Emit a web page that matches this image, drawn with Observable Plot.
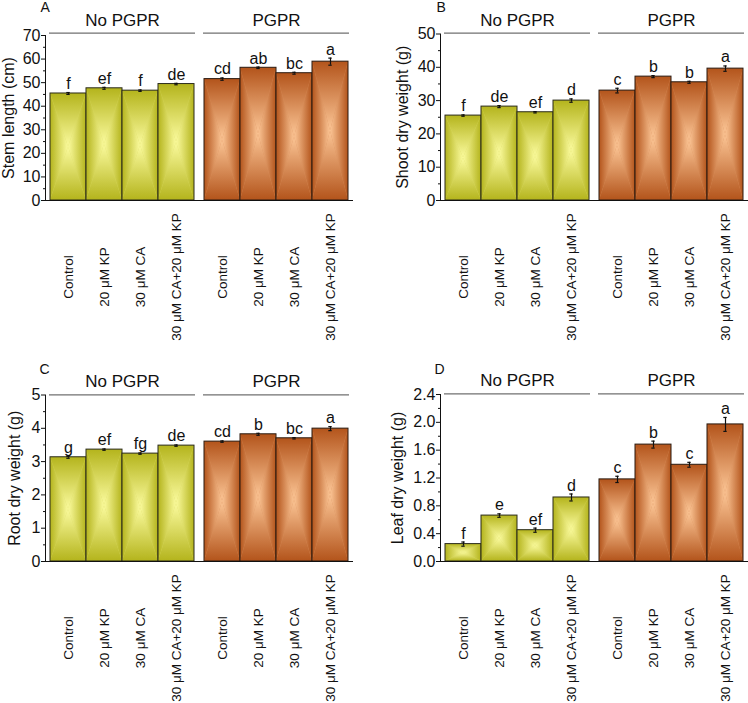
<!DOCTYPE html>
<html><head><meta charset="utf-8">
<script src="https://cdn.jsdelivr.net/npm/d3@7"></script>
<script src="https://cdn.jsdelivr.net/npm/@observablehq/plot@0.6"></script>
<style>
body{margin:0;background:#fff;}
#wrap{position:relative;width:748px;height:703px;font-family:"Liberation Sans",Arial,sans-serif;overflow:hidden;}
.panel{position:absolute;}
.tag{position:absolute;font-size:14px;line-height:1;color:#111;}
</style></head><body>
<svg width="0" height="0" style="position:absolute">
<defs>
  <linearGradient id="yL" x1="0" y1="0" x2="1" y2="0"><stop offset="0" stop-color="#b4b41c"/><stop offset="1" stop-color="#fbfb9e"/></linearGradient>
  <linearGradient id="yR" x1="0" y1="0" x2="1" y2="0"><stop offset="0" stop-color="#fbfb9e"/><stop offset="1" stop-color="#b4b41c"/></linearGradient>
  <linearGradient id="yT" x1="0" y1="0" x2="0" y2="1"><stop offset="0" stop-color="#b4b41c"/><stop offset="1" stop-color="#fbfb9e"/></linearGradient>
  <linearGradient id="yB" x1="0" y1="0" x2="0" y2="1"><stop offset="0" stop-color="#fbfb9e"/><stop offset="1" stop-color="#b4b41c"/></linearGradient>
  <linearGradient id="oL" x1="0" y1="0" x2="1" y2="0"><stop offset="0" stop-color="#b3541b"/><stop offset="1" stop-color="#fcc696"/></linearGradient>
  <linearGradient id="oR" x1="0" y1="0" x2="1" y2="0"><stop offset="0" stop-color="#fcc696"/><stop offset="1" stop-color="#b3541b"/></linearGradient>
  <linearGradient id="oT" x1="0" y1="0" x2="0" y2="1"><stop offset="0" stop-color="#b3541b"/><stop offset="1" stop-color="#fcc696"/></linearGradient>
  <linearGradient id="oB" x1="0" y1="0" x2="0" y2="1"><stop offset="0" stop-color="#fcc696"/><stop offset="1" stop-color="#b3541b"/></linearGradient>
  <pattern id="pY" patternContentUnits="objectBoundingBox" width="1" height="1">
    <rect width="1" height="1" fill="#d8d85e"/>
    <polygon points="0,0 0.5,0.5 0,1" fill="url(#yL)"/>
    <polygon points="1,0 0.5,0.5 1,1" fill="url(#yR)"/>
    <polygon points="0,0 1,0 0.5,0.5" fill="url(#yT)"/>
    <polygon points="0,1 1,1 0.5,0.5" fill="url(#yB)"/>
  </pattern>
  <pattern id="pO" patternContentUnits="objectBoundingBox" width="1" height="1">
    <rect width="1" height="1" fill="#d88c58"/>
    <polygon points="0,0 0.5,0.5 0,1" fill="url(#oL)"/>
    <polygon points="1,0 0.5,0.5 1,1" fill="url(#oR)"/>
    <polygon points="0,0 1,0 0.5,0.5" fill="url(#oT)"/>
    <polygon points="0,1 1,1 0.5,0.5" fill="url(#oB)"/>
  </pattern>
</defs></svg>
<div id="wrap">
  <div class="tag" style="left:40.5px;top:0px">A</div>
  <div class="tag" style="left:436.5px;top:0px">B</div>
  <div class="tag" style="left:39.5px;top:362px">C</div>
  <div class="tag" style="left:434.5px;top:361.5px">D</div>
</div>
<script>
const treatments = ["Control", "20 μM KP", "30 μM CA", "30 μM CA+20 μM KP"];
const groups = ["No PGPR", "PGPR"];

const stemLength = [45.4, 47.6, 46.6, 49.4, 51.5, 56.3, 54.0, 58.9];
const stemErr    = [0.4, 0.4, 0.3, 0.3, 0.5, 0.3, 0.4, 1.5];
const stemLetters = ["f", "ef", "f", "de", "cd", "ab", "bc", "a"];
const stemTicks = [0, 10, 20, 30, 40, 50, 60, 70];
const stemMinor = [5, 15, 25, 35, 45, 55, 65];

const shootWeight = [25.5, 28.2, 26.5, 30.0, 33.0, 37.2, 35.5, 39.6];
const shootErr    = [0.2, 0.3, 0.2, 0.5, 0.7, 0.3, 0.3, 0.8];
const shootLetters = ["f", "de", "ef", "d", "c", "b", "b", "a"];
const shootTicks = [0, 10, 20, 30, 40, 50];
const shootMinor = [5, 15, 25, 35, 45];

const rootWeight = [3.13, 3.36, 3.24, 3.48, 3.60, 3.82, 3.70, 3.99];
const rootErr    = [0.03, 0.02, 0.02, 0.02, 0.02, 0.03, 0.02, 0.06];
const rootLetters = ["g", "ef", "fg", "de", "cd", "b", "bc", "a"];
const rootTicks = [0, 1, 2, 3, 4, 5];
const rootMinor = [0.5, 1.5, 2.5, 3.5, 4.5];

const leafWeight = [0.25, 0.66, 0.45, 0.92, 1.18, 1.68, 1.39, 1.97];
const leafErr    = [0.03, 0.025, 0.03, 0.05, 0.045, 0.05, 0.035, 0.10];
const leafLetters = ["f", "e", "ef", "d", "c", "b", "c", "a"];
const leafTicks = [0, 0.4, 0.8, 1.2, 1.6, 2.0, 2.4];
const leafMinor = [0.2, 0.6, 1.0, 1.4, 1.8, 2.2];

function rows(values, errors, letters) {
  return values.map((v, i) => ({
    group: groups[Math.floor(i / 4)],
    treatment: treatments[i % 4],
    value: v, se: errors[i], letter: letters[i]
  }));
}

function panel(cfg) {
  const data = rows(cfg.values, cfg.errors, cfg.letters);
  const capInset = 16.3;
  const headDy = cfg.headY - cfg.frameTop;
  const chart = Plot.plot({
    width: 374, height: cfg.height,
    marginLeft: cfg.ml, marginRight: cfg.mr, marginTop: cfg.mt, marginBottom: cfg.mb,
    style: {fontFamily: "'Liberation Sans', Arial, sans-serif", fontSize: "16px", color: "#111", background: "transparent", overflow: "visible"},
    fx: {domain: groups, paddingInner: 0.052, paddingOuter: 0, axis: null},
    x: {domain: treatments, padding: 0, axis: null},
    y: {domain: [0, cfg.max], axis: null},
    marks: [
      Plot.barY(data.filter(d => d.group === groups[0]), {fx: "group", x: "treatment", y: "value", fill: "url(#pY)", stroke: "#2a2a1a", strokeWidth: 1}),
      Plot.barY(data.filter(d => d.group === groups[1]), {fx: "group", x: "treatment", y: "value", fill: "url(#pO)", stroke: "#2a1a10", strokeWidth: 1}),
      Plot.ruleX(data, {fx: "group", x: "treatment", y1: d => d.value - d.se, y2: d => d.value + d.se, stroke: "#111", strokeWidth: 1.2}),
      Plot.tickY(data, {fx: "group", x: "treatment", y: d => d.value + d.se, insetLeft: capInset, insetRight: capInset, stroke: "#111", strokeWidth: 1.2}),
      Plot.tickY(data, {fx: "group", x: "treatment", y: d => d.value - d.se, insetLeft: capInset, insetRight: capInset, stroke: "#111", strokeWidth: 1.2}),
      Plot.text(data, {fx: "group", x: "treatment", y: d => d.value + d.se, text: "letter", dy: -8.6, fontSize: 16, fill: "#111"}),
      Plot.ruleY([cfg.max], {stroke: "#707070", strokeWidth: 1.2, dy: headDy}),
      Plot.text(groups, {fx: d => d, text: d => d, frameAnchor: "top", lineAnchor: "middle", dy: headDy - 7.7 - 0.32 * 17, fontSize: 17, fill: "#111"}),
      Plot.frame({anchor: "left", facet: "super", dx: -4, stroke: "#111"}),
      Plot.frame({anchor: "bottom", facet: "super", insetLeft: -4, insetRight: -3, stroke: "#111"}),
      Plot.axisY({ticks: cfg.ticks, tickFormat: cfg.fmt, tickSize: 4, tickPadding: 1, dx: -4, label: cfg.label, labelAnchor: "center", labelArrow: "none", labelOffset: cfg.lo, fontSize: 16, stroke: "#111"}),
      Plot.axisY({ticks: cfg.minor, tickSize: 2, tickFormat: () => "", dx: -4, label: null, stroke: "#111"}),
      Plot.axisX({tickSize: 0, tickPadding: 0, tickRotate: -90, textAnchor: "middle", lineAnchor: "middle", dy: 76.5, fontSize: 13.5, label: null, fill: "#111"})
    ]
  });
  const div = document.createElement("div");
  div.className = "panel";
  div.style.left = cfg.left + "px";
  div.style.top = cfg.top + "px";
  div.appendChild(chart);
  document.getElementById("wrap").appendChild(div);
}

panel({left: 0, top: 0, height: 350, ml: 48, mr: 25, mt: 35, mb: 150, frameTop: 35, headY: 32.7,
  values: stemLength, errors: stemErr, letters: stemLetters, max: 70, ticks: stemTicks, minor: stemMinor,
  fmt: d3.format("d"), label: "Stem length (cm)", lo: 46.5});
panel({left: 374, top: 0, height: 350, ml: 69, mr: 4, mt: 33.5, mb: 150, frameTop: 33.5, headY: 32.7,
  values: shootWeight, errors: shootErr, letters: shootLetters, max: 50, ticks: shootTicks, minor: shootMinor,
  fmt: d3.format("d"), label: "Shoot dry weight (g)", lo: 47.5});
panel({left: 0, top: 350, height: 353, ml: 48, mr: 25, mt: 44.5, mb: 142, frameTop: 44.5, headY: 44.3,
  values: rootWeight, errors: rootErr, letters: rootLetters, max: 5, ticks: rootTicks, minor: rootMinor,
  fmt: d3.format("d"), label: "Root dry weight (g)", lo: 40.5});
panel({left: 374, top: 350, height: 353, ml: 69, mr: 4, mt: 44, mb: 142, frameTop: 44, headY: 43.3,
  values: leafWeight, errors: leafErr, letters: leafLetters, max: 2.4, ticks: leafTicks, minor: leafMinor,
  fmt: d3.format(".1f"), label: "Leaf dry weight (g)", lo: 53});
</script>
</body></html>
